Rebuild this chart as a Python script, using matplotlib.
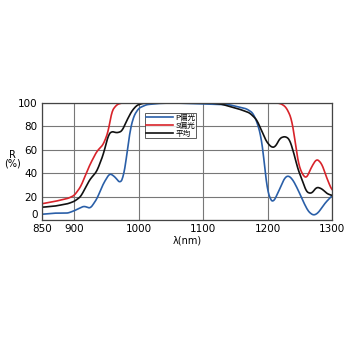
import numpy as np
import matplotlib.pyplot as plt

plt.rcParams['font.family'] = ['DejaVu Sans', 'Noto Sans CJK JP']

# P polarisation
p_x = [850, 870, 890, 900, 915, 925, 935, 945, 955, 963, 971, 976, 981, 986, 992,
       1000, 1012, 1030, 1050, 1140, 1167, 1177, 1185, 1190, 1193, 1196, 1199, 1204,
       1209, 1217, 1226, 1232, 1239, 1247, 1255, 1263, 1271, 1278, 1289, 1300]
p_y = [5, 6, 6, 8, 12, 10, 18, 31, 40, 37, 31.5, 36, 53, 75, 88.5,
       95.5, 98.5, 99.5, 100, 98.5, 95, 91.5, 81.5, 70, 58.7, 41.6, 27.3, 17.4,
       15.4, 24.5, 35.9, 38.2, 34.5, 26, 16, 7.4, 4, 6, 14.5, 21]

# S polarisation
s_x = [850, 870, 890, 900, 910, 924, 935, 945, 953, 958, 966, 974, 1215, 1222,
       1229, 1237, 1242, 1247, 1253, 1260, 1268, 1276, 1284, 1292, 1300]
s_y = [14, 16, 18.5, 21, 28.5, 47, 58.7, 64.4, 75.8, 92.9, 98.6, 100, 100, 99,
       96, 86.6, 69.6, 49.6, 39.7, 35.4, 45.4, 52.4, 48.1, 35.4, 25]

# average
a_x = [850, 870, 890, 900, 910, 924, 935, 945, 953, 958, 966, 974, 981, 989, 997,
       1006, 1020, 1110, 1128, 1141, 1157, 1172, 1183, 1191, 1198, 1206, 1212, 1219,
       1227, 1234, 1242, 1247, 1253, 1260, 1268, 1276, 1284, 1292, 1300]
a_y = [11, 12, 14, 16, 20, 34.5, 41.6, 55.8, 72.9, 75.8, 74.4, 75.8, 84.4, 92.9, 98,
       99.6, 100, 100, 99, 97, 94.5, 91.5, 85.7, 75.8, 67, 62, 62.5, 70,
       71.5, 69, 54.4, 43, 35.4, 24, 22.6, 28.3, 26.8, 22.6, 21]


def smooth(xs, ys):
    xx = np.linspace(xs[0], xs[-1], 600)
    yy = np.interp(xx, xs, ys)
    k = np.ones(9) / 9
    yp = np.pad(yy, 4, mode='edge')
    return xx, np.convolve(yp, k, mode='valid')


fig = plt.figure(figsize=(3.5, 3.5), dpi=100)
ax = fig.add_axes([0.12, 0.371, 0.829, 0.335])

for xs, ys, c, lab in [(p_x, p_y, '#2a5fa8', 'P偏光'),
                       (s_x, s_y, '#d8232a', 'S偏光'),
                       (a_x, a_y, '#111111', '平均')]:
    xx, yy = smooth(xs, ys)
    ax.plot(xx, yy, color=c, lw=1.2, label=lab)

ax.set_xlim(850, 1300)
ax.set_ylim(0, 100)
ax.set_xticks([850, 900, 1000, 1100, 1200, 1300])
ax.set_yticks([0, 20, 40, 60, 80, 100])
ax.grid(True, color='#777777', lw=0.8)
ax.tick_params(length=0, labelsize=7.5, pad=3)
for s in ax.spines.values():
    s.set_color('#444444')
    s.set_linewidth(0.9)
ax.get_yticklabels()[0].set_va('bottom')

ax.set_xlabel('λ(nm)', fontsize=7, labelpad=1)
fig.text(0.035, 0.545, 'R\n(%)', fontsize=7, ha='center', va='center',
         linespacing=0.9)

leg = ax.legend(loc='upper left', bbox_to_anchor=(0.355, 0.915), fontsize=5.5,
                frameon=True, fancybox=False, handlelength=3.6,
                borderpad=0.1, labelspacing=0.0, handletextpad=0.3,
                borderaxespad=0)
leg.get_frame().set_edgecolor('#333333')
leg.get_frame().set_linewidth(0.7)
for t in leg.get_texts():
    t.set_family(['Noto Sans CJK JP'])

fig.savefig('out.png', dpi=100, facecolor='white')
